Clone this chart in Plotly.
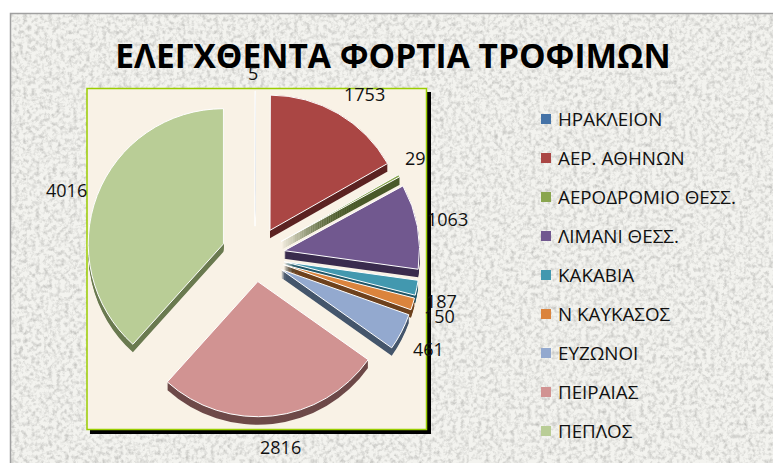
import base64
import plotly.graph_objects as go

W, H = 773, 463
title = "ΕΛΕΓΧΘΕΝΤΑ ΦΟΡΤΙΑ ΤΡΟΦΙΜΩΝ"
labels = ["ΗΡΑΚΛΕΙΟΝ", "ΑΕΡ. ΑΘΗΝΩΝ", "ΑΕΡΟΔΡΟΜΙΟ ΘΕΣΣ.", "ΛΙΜΑΝΙ ΘΕΣΣ.", "ΚΑΚΑΒΙΑ",
          "Ν ΚΑΥΚΑΣΟΣ", "ΕΥΖΩΝΟΙ", "ΠΕΙΡΑΙΑΣ", "ΠΕΠΛΟΣ"]
values = [5, 1753, 29, 1063, 187, 150, 461, 2816, 4016]
colors = ["#4573a7", "#aa4644", "#89a54e", "#71588f", "#4298af", "#db843d", "#93a9cf", "#d19392", "#b9cd96"]
dark = ["#2a4565", "#5c2322", "#4a5a2a", "#3a2c4e", "#22586a", "#6e421e", "#45566c", "#6e4a49", "#6a7a50"]
pulls = [0.22, 0.22, 0.22, 0.22, 0.22, 0.22, 0.22, 0.19, 0.25]
label_xy = [(253, 73), (364, 94), (415, 158), (448, 219), (442, 301), (439, 316), (428, 349), (280, 447), (66, 190)]


def px(x0, y0, x1, y1, **kw):
    return dict(type="rect", xref="paper", yref="paper", layer="below",
                x0=x0 / W, x1=x1 / W, y0=1 - y0 / H, y1=1 - y1 / H, **kw)


def dom(cx, cy, r):
    return dict(x=[(cx - r) / W, (cx + r) / W], y=[1 - (cy + r) / H, 1 - (cy - r) / H])


svg = f"""<svg xmlns='http://www.w3.org/2000/svg' width='{W}' height='{H}'>
<filter id='n' x='0' y='0' width='100%' height='100%'>
<feTurbulence type='fractalNoise' baseFrequency='0.24' numOctaves='3' seed='4'/>
<feColorMatrix values='0 0 0 0 0.5 0 0 0 0 0.5 0 0 0 0 0.48 1.8 0 0 0 -0.75'/>
</filter>
<rect width='100%' height='100%' fill='#f3f3ef'/>
<rect width='100%' height='100%' filter='url(#n)'/>
</svg>"""
texture = "data:image/svg+xml;base64," + base64.b64encode(svg.encode()).decode()

fig = go.Figure()
cx, cy, outer = 255, 256, 169
for depth in range(8, 0, -1):
    fig.add_trace(go.Pie(labels=labels, values=values, sort=False, direction="clockwise", rotation=0,
                         pull=pulls, domain=dom(cx, cy + depth, outer),
                         marker=dict(colors=dark, line=dict(width=0)),
                         textinfo="none", showlegend=False, hoverinfo="skip"))
fig.add_trace(go.Pie(labels=labels, values=values, sort=False, direction="clockwise", rotation=0,
                     pull=pulls, domain=dom(cx, cy, outer),
                     marker=dict(colors=colors, line=dict(color="#ffffff", width=1)),
                     textinfo="none", showlegend=False))

shapes = [
    px(10.5, 13.5, W + 5, H + 5, line=dict(color="#a0a0a0", width=1.5)),
    px(90, 92, 431, 434, fillcolor="#000000", line=dict(width=0)),
    px(87, 88.5, 426.5, 429.5, fillcolor="#f9f2e6", line=dict(color="#9acd00", width=1.5)),
]
annotations = []
for v, (lx, ly) in zip(values, label_xy):
    annotations.append(dict(text=str(v), x=lx / W, y=1 - ly / H, xref="paper", yref="paper",
                            xanchor="center", yanchor="middle", showarrow=False,
                            font=dict(family="Open Sans", size=18, color="#111111")))
for i, (lab, col) in enumerate(zip(labels, colors)):
    yc = 119 + i * 39
    shapes.append(px(541, yc - 5, 551, yc + 5, fillcolor=col, line=dict(width=0)))
    annotations.append(dict(text=lab, x=556 / W, y=1 - yc / H, xref="paper", yref="paper",
                            xanchor="left", yanchor="middle", showarrow=False,
                            font=dict(family="Open Sans", size=18.8, color="#111111")))

fig.update_layout(
    width=W, height=H, margin=dict(l=0, r=0, t=0, b=0), paper_bgcolor="#ffffff", showlegend=False,
    title=dict(text=title, x=393 / W, xanchor="center", y=1 - 56 / H, yanchor="middle",
               font=dict(family="Open Sans", size=33.5, color="#000000", weight="bold")),
    shapes=shapes, annotations=annotations,
    images=[dict(source=texture, xref="paper", yref="paper", x=11 / W, y=1 - 14 / H,
                 sizex=1, sizey=1, sizing="stretch", xanchor="left", yanchor="top", layer="below")],
)
fig.write_html("out.html", config=dict(displayModeBar=False),
               post_script="document.body.style.margin='0';document.body.style.overflow='hidden';")
